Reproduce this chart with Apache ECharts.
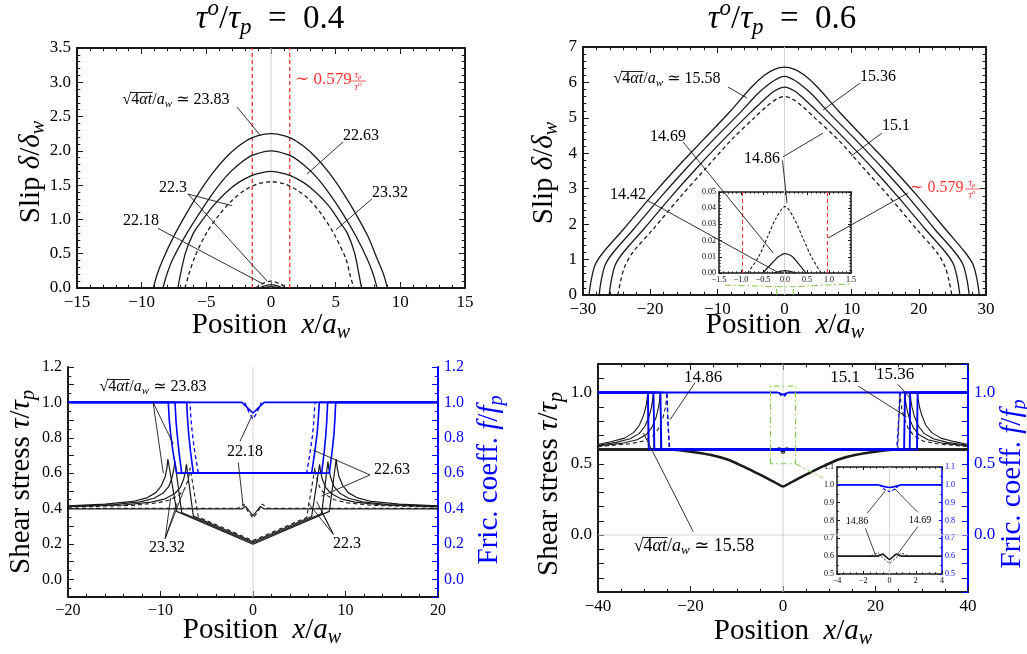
<!DOCTYPE html>
<html>
<head>
<meta charset="utf-8">
<script src="https://cdn.jsdelivr.net/npm/echarts@6/dist/echarts.min.js"></script>
<style>html,body{margin:0;background:#fff}#chart{width:1027px;height:654px}</style>
</head>
<body>
<div id="chart"></div>
<script>
// ---- slip profiles, tau_o/tau_p = 0.4 (x/a_w, delta/delta_w)
const slip04A = [[-9.1,0],[-8.8,0.2],[-8.35,0.42],[-7.5,0.76],[-6.5,1.1],[-5.5,1.41],[-4.5,1.68],[-3.5,1.9],[-2.5,2.07],[-1.5,2.19],[-0.5,2.245],[0,2.25],[0.5,2.245],[1.5,2.19],[2.5,2.07],[3.5,1.9],[4.5,1.68],[5.5,1.41],[6.5,1.1],[7.5,0.75],[8.2,0.43],[8.7,0.2],[9.0,0]];
const slip04B = [[-8.35,0],[-8.05,0.2],[-7.6,0.42],[-6.5,0.8],[-5.5,1.1],[-4.5,1.38],[-3.5,1.62],[-2.5,1.8],[-1.5,1.93],[-0.5,1.99],[0,2.0],[0.5,1.99],[1.5,1.93],[2.5,1.8],[3.5,1.62],[4.5,1.38],[5.5,1.1],[6.5,0.78],[7.45,0.42],[7.9,0.2],[8.2,0]];
const slip04C = [[-7.2,0],[-7.0,0.2],[-6.6,0.52],[-6,0.8],[-5.5,0.94],[-4.5,1.19],[-3.5,1.39],[-2.5,1.54],[-1.5,1.64],[-0.5,1.69],[0,1.7],[0.5,1.69],[1.5,1.64],[2.5,1.54],[3.5,1.39],[4.5,1.19],[5.4,0.94],[5.9,0.8],[6.45,0.52],[6.8,0.2],[7.0,0]];
const slip04D = [[-6.65,0],[-6.35,0.2],[-5.9,0.45],[-5,0.8],[-4,1.07],[-3,1.28],[-2,1.43],[-1,1.52],[0,1.55],[1,1.52],[2,1.43],[3,1.28],[4,1.05],[4.9,0.78],[5.8,0.42],[6.1,0.2],[6.4,0]];
const slip04E = [[-0.9,0],[-0.5,0.03],[0,0.05],[0.5,0.03],[0.9,0]];
const slip04F = [[-0.6,0],[0,0.02],[0.6,0]];
const slip04G = [[-1.2,0],[-0.7,0.06],[0,0.1],[0.7,0.06],[1.2,0]];
const redLines04 = [-1.4475, 1.4475];

// ---- slip profiles, tau_o/tau_p = 0.6
const slip06A = [[-29.1,0],[-28.8,0.4],[-28.2,0.85],[-27,1.2],[-24,1.85],[-20,2.75],[-16,3.6],[-12,4.4],[-8,5.2],[-5,5.85],[-3,6.2],[-1.5,6.37],[0,6.43],[1.5,6.37],[3,6.2],[5,5.85],[8,5.2],[12,4.4],[16,3.6],[20,2.75],[24,1.85],[26.9,1.2],[28.1,0.85],[28.7,0.4],[29.0,0]];
const slip06B = [[-27.6,0],[-27.3,0.4],[-26.7,0.85],[-25.5,1.2],[-22.5,1.85],[-18.5,2.75],[-14.5,3.6],[-10.5,4.4],[-6.5,5.17],[-4,5.68],[-2,6.0],[-0.8,6.13],[0,6.17],[0.8,6.13],[2,6.0],[4,5.68],[6.5,5.17],[10.5,4.4],[14.5,3.6],[18.5,2.75],[22.4,1.85],[25.4,1.2],[26.6,0.85],[27.2,0.4],[27.5,0]];
const slip06C = [[-26.1,0],[-25.8,0.4],[-25.2,0.85],[-24,1.2],[-21,1.85],[-17,2.75],[-13,3.6],[-9,4.4],[-5.5,5.07],[-3,5.52],[-1.5,5.76],[0,5.87],[1.5,5.76],[3,5.52],[5.5,5.07],[9,4.4],[13,3.6],[17,2.75],[21,1.85],[24,1.2],[25.2,0.85],[25.8,0.4],[26.1,0]];
const slip06D = [[-24.8,0],[-24.4,0.4],[-23.8,0.8],[-22.6,1.2],[-19.6,1.85],[-15.6,2.75],[-11.6,3.6],[-7.8,4.4],[-4.5,5.0],[-2.5,5.35],[-1,5.55],[0,5.6],[1,5.55],[2.5,5.35],[4.5,5.0],[7.9,4.4],[11.7,3.6],[15.7,2.75],[19.7,1.85],[22.7,1.2],[23.9,0.8],[24.5,0.4],[24.9,0]];
// inset of the 0.6 slip panel
const insSlipD = [[-0.85,0],[-0.6,0.01],[-0.4,0.022],[-0.2,0.034],[0,0.041],[0.2,0.034],[0.4,0.022],[0.6,0.01],[0.82,0]];
const insSlipS = [[-0.5,0],[-0.3,0.006],[-0.15,0.01],[0,0.012],[0.15,0.0105],[0.3,0.006],[0.48,0]];
const insSlipT = [[-0.25,0],[0,0.0015],[0.25,0]];
const redLines06 = [-0.965, 0.965];

// ---- shear stress (black) and friction (blue), tau_o/tau_p = 0.4
const tau04A = [[-20,0.415],[-16,0.425],[-13,0.44],[-11.5,0.46],[-10.5,0.49],[-9.9,0.53],[-9.5,0.58],[-9.3,0.63],[-9.2,0.68],[-8.25,0.384],[0,0.198],[8.25,0.384],[9.0,0.68],[9.1,0.63],[9.3,0.58],[9.7,0.53],[10.3,0.49],[11.3,0.46],[12.8,0.44],[15.8,0.425],[20,0.415]];
const tau04B = [[-20,0.412],[-15,0.422],[-12.2,0.438],[-10.7,0.458],[-9.7,0.488],[-9.1,0.525],[-8.75,0.575],[-8.55,0.625],[-8.45,0.665],[-7.71,0.378],[0,0.205],[7.42,0.372],[8.1,0.665],[8.2,0.625],[8.4,0.575],[8.75,0.525],[9.35,0.488],[10.35,0.458],[11.85,0.438],[14.65,0.422],[20,0.412]];
const tau04C = [[-20,0.41],[-14,0.42],[-11,0.436],[-9.5,0.455],[-8.45,0.485],[-7.85,0.52],[-7.5,0.565],[-7.3,0.61],[-7.2,0.65],[-6.45,0.357],[0,0.212],[6.34,0.355],[7.2,0.65],[7.3,0.61],[7.5,0.565],[7.85,0.52],[8.45,0.485],[9.5,0.455],[11,0.436],[14,0.42],[20,0.41]];
const tau04D = [[-20,0.408],[-13,0.418],[-10.3,0.432],[-8.9,0.45],[-7.95,0.478],[-7.4,0.51],[-7.1,0.55],[-6.9,0.59],[-6.8,0.63],[-5.91,0.352],[0,0.219],[5.8,0.35],[6.7,0.63],[6.8,0.59],[7.0,0.55],[7.3,0.51],[7.85,0.478],[8.8,0.45],[10.2,0.432],[12.9,0.418],[20,0.408]];
const tau04E = [[-20,0.398],[-1.2,0.398],[-0.8,0.412],[-0.4,0.385],[0,0.36],[0.4,0.385],[0.8,0.412],[1.2,0.398],[20,0.398]];
const tau04F = [[-20,0.401],[-1.6,0.402],[-1.0,0.425],[-0.5,0.38],[0,0.345],[0.5,0.38],[1.0,0.425],[1.6,0.402],[20,0.401]];
const fric04A = [[-20,1],[-9.16,1],[-9.05,0.9],[-8.9,0.82],[-8.65,0.72],[-8.25,0.6],[8.25,0.6],[8.55,0.72],[8.75,0.82],[8.85,0.9],[8.94,1],[20,1]];
const fric04B = [[-20,1],[-8.43,1],[-8.33,0.9],[-8.2,0.82],[-8.0,0.72],[-7.71,0.6],[7.42,0.6],[7.7,0.72],[7.88,0.82],[7.98,0.9],[8.07,1],[20,1]];
const fric04C = [[-20,1],[-7.17,1],[-7.07,0.9],[-6.95,0.82],[-6.75,0.72],[-6.45,0.6],[6.34,0.6],[6.68,0.72],[6.92,0.82],[7.05,0.9],[7.17,1],[20,1]];
const fric04D = [[-20,1],[-6.81,1],[-6.7,0.9],[-6.55,0.82],[-6.3,0.72],[-5.91,0.6],[5.8,0.6],[6.18,0.72],[6.45,0.82],[6.58,0.9],[6.7,1],[20,1]];
const fric04E = [[-20,1],[-1.2,1],[-0.5,0.965],[0,0.94],[0.5,0.965],[1.2,1],[20,1]];
const fric04F = [[-0.9,1],[-0.4,0.94],[0,0.905],[0.4,0.94],[0.9,1]];

// ---- shear stress and friction, tau_o/tau_p = 0.6
const tau06Init = [[-40,0.6],[40,0.6]];
const tau06Base = [[-40,0.6],[-24.4,0.6],[-20,0.585],[-15.8,0.563],[-12,0.53],[-8.6,0.481],[-6,0.44],[-3.5,0.399],[-1.5,0.365],[0,0.34],[1.5,0.365],[3.5,0.399],[6,0.44],[8.6,0.481],[12,0.53],[15.8,0.563],[20,0.585],[24.4,0.6],[40,0.6]];
const tau06AL = [[-40,0.635],[-37.25,0.655],[-34.25,0.68],[-32.25,0.72],[-31.05,0.77],[-30.15,0.84],[-29.65,0.9],[-29.4,0.95],[-29.25,1.0],[-29.1,0.6]];
const tau06BL = [[-40,0.63],[-36.05,0.65],[-33.05,0.675],[-31.05,0.713],[-29.85,0.763],[-28.95,0.833],[-28.45,0.895],[-28.2,0.945],[-28.05,1.0],[-27.9,0.6]];
const tau06CL = [[-40,0.625],[-34.55,0.645],[-31.55,0.668],[-29.55,0.705],[-28.35,0.755],[-27.45,0.825],[-26.95,0.89],[-26.7,0.94],[-26.55,1.0],[-26.4,0.6]];
const tau06DL = [[-40,0.62],[-33.1,0.64],[-30.1,0.66],[-28.1,0.697],[-26.9,0.747],[-26.0,0.818],[-25.5,0.885],[-25.25,0.937],[-25.1,1.0],[-24.6,0.6]];
const tau06AR = [[28.95,0.6],[29.1,1.0],[29.25,0.95],[29.5,0.9],[30.0,0.84],[30.9,0.77],[32.1,0.72],[34.1,0.68],[37.1,0.655],[40,0.635]];
const tau06BR = [[27.35,0.6],[27.5,1.0],[27.65,0.945],[27.9,0.895],[28.4,0.833],[29.3,0.763],[30.5,0.713],[32.5,0.675],[35.5,0.65],[40,0.63]];
const tau06CR = [[26.2,0.6],[26.35,1.0],[26.5,0.94],[26.75,0.89],[27.25,0.825],[28.15,0.755],[29.35,0.705],[31.35,0.668],[34.35,0.645],[40,0.625]];
const tau06DR = [[24.8,0.6],[25.3,1.0],[25.45,0.937],[25.7,0.885],[26.2,0.818],[27.1,0.747],[28.3,0.697],[30.3,0.66],[33.3,0.64],[40,0.62]];
const tau06E = [[-1.2,0.6],[-0.5,0.61],[0,0.58],[0.5,0.61],[1.2,0.6]];
const tau06F = [[-1.5,0.6],[-0.8,0.615],[0,0.56],[0.8,0.615],[1.5,0.6]];
const fric06A = [[-40,1],[-29.2,1],[-29.0,0.6],[29.0,0.6],[29.1,1],[40,1]];
const fric06B = [[-40,1],[-28.0,1],[-27.8,0.6],[27.4,0.6],[27.5,1],[40,1]];
const fric06C = [[-40,1],[-26.5,1],[-26.3,0.6],[26.2,0.6],[26.35,1],[40,1]];
const fric06D = [[-40,1],[-25.1,1],[-24.9,0.8],[-24.5,0.6],[24.6,0.6],[25.0,0.8],[25.3,1],[40,1]];
const fric06E = [[-40,1],[-1.2,1],[0,0.985],[1.2,1],[40,1]];
const fric06F = [[-0.8,1],[-0.4,0.975],[0,0.965],[0.4,0.975],[0.8,1]];
// inset of the 0.6 stress panel
const insFricS = [[-4,1],[-0.9,1],[-0.4,0.99],[0,0.985],[0.4,0.99],[0.9,1],[4,1]];
const insFricD = [[-0.75,1],[-0.4,0.975],[0,0.962],[0.4,0.975],[0.75,1]];
const insTauS = [[-4,0.6],[-0.9,0.6],[-0.5,0.612],[0,0.58],[0.5,0.612],[0.9,0.6],[4,0.6]];
const insTauD = [[-1.4,0.602],[-0.9,0.618],[0,0.558],[0.9,0.618],[1.4,0.602]];

// ---- leader lines (start, end) in data units
const lead04 = [[[-2.63,2.64],[-0.85,2.23]],[[5.57,2.13],[2.78,1.66]],[[7.81,1.3],[5.03,0.85]],[[-6.42,1.37],[-3.0,1.2]],[[-6.42,1.37],[-0.3,0.1]],[[-8.74,0.87],[-0.62,0.06]]];
const lead06 = [[[-8.41,5.87],[-5.58,5.56]],[[11.24,5.98],[5.73,5.22]],[[14.5,4.57],[9.9,3.92]],[[-0.22,3.9],[5.73,4.57]],[[-0.3,3.8],[0.37,2.6]],[[-15.1,4.32],[-1.7,1.19]],[[-20.5,2.68],[-1.1,0.65]]];
const leadRed06 = [[18.4,2.88],[6.5,1.61]];
const zoom06 = [[[-8.86,0.28],[-1.16,0.235],[-1.16,0]],[[1.31,0],[1.31,0.235],[9.75,0.31]],[[-1.16,0.235],[1.31,0.235]]];
const leadTau04 = [[[-10.8,1.0],[-9.7,0.6]],[[-10.8,1.0],[-8.62,0.765]],[[-9.5,0.23],[-8.9,0.46]],[[-9.5,0.23],[-8.2,0.43]],[[-9.5,0.23],[-7.5,0.5]],[[-1.4,0.78],[-0.07,0.93]],[[-1.59,0.66],[-1.05,0.405]],[[12.65,0.59],[6.52,0.73]],[[12.65,0.59],[7.4,0.47]],[[8.68,0.254],[5.98,0.43]],[[8.68,0.254],[6.88,0.44]],[[8.68,0.254],[7.42,0.386]]];
const leadTau06 = [[[-19.0,1.07],[-24.4,0.81]],[[16.3,1.044],[26.7,0.83]],[[24.9,1.056],[27.5,0.96]],[[-19.4,0.023],[-30.2,0.716]]];
const zoomTau06 = [[[-2.7,0.5],[-2.7,1.045],[2.7,1.045],[2.7,0.5],[-2.7,0.5]],[[2.7,0.5],[8.6,0.4]]];
const leadIns06 = [[[-1.71,0.84],[-0.31,0.967]],[[-1.84,0.757],[-1.08,0.608]],[[2.15,0.846],[0.37,0.98]],[[2.15,0.766],[0.58,0.608]]];

const F = '"Liberation Serif","DejaVu Serif",serif';
const BLK = '#1a1a1a', BLU = '#0000ff', RED = '#ff3333', GRN = '#7dc843', GRY = '#d4d4d4';

const grids = [
  {left: 77, top: 48, width: 388, height: 240},
  {left: 583, top: 47, width: 403, height: 248},
  {left: 68, top: 367, width: 370, height: 230},
  {left: 598, top: 364, width: 370, height: 228},
  {left: 719, top: 192, width: 132, height: 81},
  {left: 837, top: 467, width: 105, height: 107}
];

const neg = v => String(v).replace('-', '\u2212');
const axCfg = [
  {x: [-15, 15, 5, 5], y: [0, 3.5, 0.5, 5], fs: 17, lw: 2, tl: 6, xf: v => neg(v), yf: v => v.toFixed(1)},
  {x: [-30, 30, 10, 5], y: [0, 7, 1, 5], fs: 17, lw: 2, tl: 6, xf: v => neg(v), yf: v => String(v)},
  {x: [-20, 20, 10, 5], y: [-0.1, 1.2, 0.1, 2], fs: 16, lw: 2, tl: 6, xf: v => neg(v), noTop: true,
    yf: v => (Math.round(v * 10) % 2 === 0 ? neg(v.toFixed(1)) : ''), right: BLU},
  {x: [-40, 40, 20, 4], y: [-0.4, 1.2, 0.1, 1], fs: 17, lw: 2, tl: 6, xf: v => neg(v),
    yf: v => (Math.round(v * 10) % 5 === 0 ? neg(v.toFixed(1)) : ''), right: BLU},
  {x: [-1.5, 1.5, 0.5, 5], y: [0, 0.05, 0.01, 5], fs: 8, lw: 1.5, tl: 3, xf: v => neg(v.toFixed(1)), yf: v => v.toFixed(2)},
  {x: [-4, 4, 2, 4], y: [0.5, 1.1, 0.1, 2], fs: 8, lw: 1.5, tl: 3, xf: v => neg(v), yf: v => v.toFixed(1), right: BLU}
];

function axisStyle(col, c, split) {
  return {
    axisLine: {show: true, onZero: false, lineStyle: {color: col, width: c.lw}},
    axisTick: {show: true, inside: true, length: c.tl, lineStyle: {color: col, width: 1}},
    minorTick: {show: split > 1, splitNumber: split, length: c.tl * 0.55, lineStyle: {color: col, width: 1}},
    splitLine: {show: false}
  };
}
const xAxes = [], yAxes = [];
axCfg.forEach((c, g) => {
  const lab = (show, col, fmt) => ({show, color: col, fontFamily: F, fontSize: c.fs, margin: c.fs > 10 ? 6 : 3, formatter: fmt});
  xAxes.push(Object.assign({type: 'value', gridIndex: g, position: 'bottom', min: c.x[0], max: c.x[1], interval: c.x[2],
    axisLabel: lab(true, '#000', c.xf)}, axisStyle(BLK, c, c.x[3])));
  xAxes.push(Object.assign({type: 'value', gridIndex: g, position: 'top', min: c.x[0], max: c.x[1], interval: c.x[2],
    show: !c.noTop, axisLabel: {show: false}}, axisStyle(BLK, c, c.x[3])));
  yAxes.push(Object.assign({type: 'value', gridIndex: g, position: 'left', min: c.y[0], max: c.y[1], interval: c.y[2],
    axisLabel: lab(true, '#000', c.yf)}, axisStyle(BLK, c, c.y[3])));
  yAxes.push(Object.assign({type: 'value', gridIndex: g, position: 'right', min: c.y[0], max: c.y[1], interval: c.y[2],
    axisLabel: lab(!!c.right, c.right || '#000', c.yf)}, axisStyle(c.right || BLK, c, c.y[3])));
});

const series = [];
function add(g, data, o) {
  o = o || {};
  series.push({
    type: 'line', xAxisIndex: 2 * g, yAxisIndex: 2 * g, data: data, symbol: 'none', silent: true,
    smooth: o.smooth || false, z: o.z || 3,
    lineStyle: {color: o.c || BLK, width: o.w || 1.3, type: o.t || 'solid'}
  });
}
const DASH = [4, 3], DDOT = [6, 3, 1.5, 3];

// panel 1
add(0, [[0, 0], [0, 3.5]], {c: GRY, w: 1, z: 1});
redLines04.forEach(x => add(0, [[x, 0], [x, 3.5]], {c: RED, w: 1.3, t: DASH, z: 2}));
[slip04A, slip04B, slip04C].forEach(d => add(0, d, {smooth: 0.3}));
add(0, slip04D, {t: DASH, smooth: 0.3});
add(0, slip04E, {smooth: 0.3}); add(0, slip04F, {smooth: 0.3});
add(0, slip04G, {t: DASH, smooth: 0.3});
lead04.forEach(s => add(0, s, {w: 0.9, z: 4}));

// panel 2
add(1, [[0, 0], [0, 7]], {c: GRY, w: 1, z: 1});
[slip06A, slip06B, slip06C].forEach(d => add(1, d, {smooth: 0.3}));
add(1, slip06D, {t: DASH, smooth: 0.3});
lead06.forEach(s => add(1, s, {w: 0.9, z: 4}));
add(1, leadRed06, {w: 0.9, z: 4});
zoom06.forEach(s => add(1, s, {c: GRN, w: 1, t: DDOT, z: 4}));
// inset
redLines06.forEach(x => add(4, [[x, 0], [x, 0.05]], {c: RED, w: 1.1, t: DASH, z: 2}));
add(4, insSlipD, {t: [3, 2], w: 1.1, smooth: 0.3});
add(4, insSlipS, {w: 1.2, smooth: 0.3});
add(4, insSlipT, {w: 1.2, smooth: 0.3});

// panel 3
add(2, [[0, -0.1], [0, 1.2]], {c: GRY, w: 1, z: 1});
[tau04A, tau04B, tau04C, tau04E].forEach(d => add(2, d, {w: 1.2}));
[tau04D, tau04F].forEach(d => add(2, d, {w: 1.1, t: DASH}));
[fric04A, fric04B, fric04C, fric04E].forEach(d => add(2, d, {c: BLU, w: 1.6, z: 5}));
[fric04D, fric04F].forEach(d => add(2, d, {c: BLU, w: 1.3, t: DASH, z: 5}));
leadTau04.forEach(s => add(2, s, {w: 0.9, z: 6}));

// panel 4
add(3, [[0, -0.4], [0, 1.2]], {c: GRY, w: 1, z: 1});
add(3, [[-40, 0], [40, 0]], {c: GRY, w: 1, z: 1});
add(3, tau06Init, {w: 2.5});
add(3, tau06Base, {w: 2.5, smooth: 0.3});
[tau06AL, tau06BL, tau06CL, tau06AR, tau06BR, tau06CR, tau06E].forEach(d => add(3, d, {w: 1.1}));
[tau06DL, tau06DR, tau06F].forEach(d => add(3, d, {w: 1.1, t: DASH}));
[fric06A, fric06B, fric06C, fric06E].forEach(d => add(3, d, {c: BLU, w: 1.8, z: 5}));
[fric06D, fric06F].forEach(d => add(3, d, {c: BLU, w: 1.4, t: DASH, z: 5}));
leadTau06.forEach(s => add(3, s, {w: 0.9, z: 6}));
zoomTau06.forEach(s => add(3, s, {c: GRN, w: 1, t: DDOT, z: 6}));
// inset
add(5, [[0, 0.5], [0, 1.1]], {c: GRY, w: 1, z: 1});
add(5, insTauS, {w: 1.6});
add(5, insTauD, {w: 1, t: [2, 2]});
add(5, insFricS, {c: BLU, w: 1.6, z: 5});
add(5, insFricD, {c: BLU, w: 1.2, t: [3, 2], z: 5});
leadIns06.forEach(s => add(5, s, {w: 0.8, z: 6}));

// ---- text
function rich(S, col) {
  const sm = Math.round(S * 0.7);
  return {
    n: {fontFamily: F, fontSize: S, fill: col},
    i: {fontFamily: F, fontSize: S, fontStyle: 'italic', fill: col},
    sb: {fontFamily: F, fontSize: sm, fontStyle: 'italic', fill: col, padding: [Math.round(S * 0.5), 0, 0, 0]},
    sp: {fontFamily: F, fontSize: sm, fontStyle: 'italic', fill: col, padding: [0, 0, Math.round(S * 0.6), 0]}
  };
}
function T(x, y, text, size, o) {
  o = o || {};
  const col = o.col || '#000';
  return {type: 'text', x: x, y: y, rotation: o.rot || 0, z: 100, silent: true,
    style: {text: text, rich: rich(size, col), fill: col, fontFamily: F, fontSize: size,
      align: o.align || 'center', verticalAlign: 'middle'}};
}
const ctx = document.createElement('canvas').getContext('2d');
function tw(str, size, italic) {
  ctx.font = (italic ? 'italic ' : '') + size + 'px ' + F;
  return ctx.measureText(str).width;
}
// sqrt(4 alpha t)/a_w label, with the radical bar drawn as a line
function sqrtLabel(cx, cy, S, val) {
  const sm = Math.round(S * 0.7);
  const w0 = tw('\u221A', S), w1 = tw('4', S) + tw('\u03B1t', S, true);
  const total = w0 + w1 + tw('/', S) + tw('a', S, true) + tw('w', sm, true) + tw(' \u2243 ' + val, S);
  const x0 = cx - total / 2, yb = cy - S * 0.47;
  return [
    T(x0, cy, '{n|\u221A}{n|4}{i|\u03B1t}{n|/}{i|a}{sb|w}{n| \u2243 ' + val + '}', S, {align: 'left'}),
    {type: 'line', z: 100, silent: true, shape: {x1: x0 + w0 - 0.8, y1: yb, x2: x0 + w0 + w1 + 0.5, y2: yb},
      style: {stroke: '#000', lineWidth: 0.9}}
  ];
}
const ROT = Math.PI / 2;
const AT = 29;
const graphic = [
  T(270, 19, '{i|τ}{sp|o}{n|/}{i|τ}{sb|p}{n|  =  0.4}', 33),
  T(782, 19, '{i|τ}{sp|o}{n|/}{i|τ}{sb|p}{n|  =  0.6}', 33),
  T(31, 172, '{n|Slip }{i|δ}{n|/}{i|δ}{sb|w}', AT, {rot: ROT}),
  T(544, 173, '{n|Slip }{i|δ}{n|/}{i|δ}{sb|w}', AT, {rot: ROT}),
  T(271, 325, '{n|Position  }{i|x}{n|/}{i|a}{sb|w}', AT),
  T(785, 325, '{n|Position  }{i|x}{n|/}{i|a}{sb|w}', AT),
  T(21, 482, '{n|Shear stress }{i|τ}{n|/}{i|τ}{sb|p}', AT, {rot: ROT}),
  T(489, 480, '{n|Fric. coeff. }{i|f}{n|/}{i|f}{sb|p}', AT, {rot: ROT, col: BLU}),
  T(262, 630, '{n|Position  }{i|x}{n|/}{i|a}{sb|w}', AT),
  T(549, 484, '{n|Shear stress }{i|τ}{n|/}{i|τ}{sb|p}', AT, {rot: ROT}),
  T(1012, 484, '{n|Fric. coeff. }{i|f}{n|/}{i|f}{sb|p}', AT, {rot: ROT, col: BLU}),
  T(793, 631, '{n|Position  }{i|x}{n|/}{i|a}{sb|w}', AT),
  // panel 1 labels
  ...sqrtLabel(176, 100, 16, '23.83'),
  T(361, 136, '{n|22.63}', 16),
  T(390, 193, '{n|23.32}', 16),
  T(173, 188, '{n|22.3}', 16),
  T(141, 221, '{n|22.18}', 16),
  T(295, 80, '{n|\u223C 0.579}', 17, {col: RED, align: 'left'}),
  T(358, 75, '{i|τ}{sb|p}', 10, {col: RED}),
  T(358, 87, '{i|τ}{sp|o}', 10, {col: RED}),
  {type: 'line', z: 100, silent: true, shape: {x1: 351, y1: 81, x2: 366, y2: 81}, style: {stroke: RED, lineWidth: 0.8}},
  // panel 2 labels
  ...sqrtLabel(667, 79, 16, '15.58'),
  T(878, 77, '{n|15.36}', 16),
  T(896, 126, '{n|15.1}', 16),
  T(668, 137, '{n|14.69}', 16),
  T(762, 159, '{n|14.86}', 16),
  T(628, 195, '{n|14.42}', 16),
  T(910, 188, '{n|\u223C 0.579}', 16, {col: RED, align: 'left'}),
  T(972, 183, '{i|τ}{sb|p}', 10, {col: RED}),
  T(972, 195, '{i|τ}{sp|o}', 10, {col: RED}),
  {type: 'line', z: 100, silent: true, shape: {x1: 965, y1: 189, x2: 980, y2: 189}, style: {stroke: RED, lineWidth: 0.8}},
  // panel 3 labels
  ...sqrtLabel(153, 387, 16, '23.83'),
  T(245, 452, '{n|22.18}', 16),
  T(392, 470, '{n|22.63}', 16),
  T(167, 548, '{n|23.32}', 16),
  T(347, 544, '{n|22.3}', 16),
  // panel 4 labels
  T(703, 378, '{n|14.86}', 17),
  T(845, 378, '{n|15.1}', 17),
  T(895, 375, '{n|15.36}', 17),
  ...sqrtLabel(694, 546, 18, '15.58'),
  T(857, 521, '{n|14.86}', 10),
  T(920, 520, '{n|14.69}', 10)
];

const chart = echarts.init(document.getElementById('chart'));
chart.setOption({
  animation: false,
  backgroundColor: '#fff',
  grid: grids,
  xAxis: xAxes,
  yAxis: yAxes,
  series: series,
  graphic: graphic
});
</script>
</body>
</html>
